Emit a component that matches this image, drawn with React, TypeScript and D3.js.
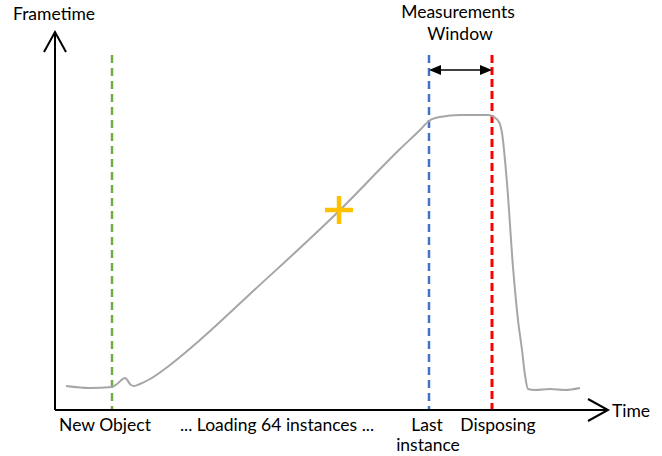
import React from "react";
import * as d3 from "d3";

// Schematic frametime curve (time units, frametime units)
const curveTime = [11, 35, 57, 62, 70, 76, 79, 85, 95, 115, 145, 195, 285, 345, 365, 374, 385, 405, 433, 439, 444, 447, 452, 458, 463, 467, 470, 473, 480, 495, 510, 525];
const curveFrame = [24, 22, 23, 26, 32, 25, 24, 26, 31, 45, 70, 116, 200, 261, 280, 289, 293, 295, 295, 293, 288, 277, 227, 143, 90, 60, 35, 21, 20, 21, 20, 22];

// Event markers
const markerNames = ["newObject", "lastInstance", "disposing"];
const markerTimes = [57, 374, 437];
const markerColors = ["#70AD47", "#4472C4", "#FF0000"];

const bottomLabels = ["New Object", "... Loading 64 instances ...", "Last", "instance", "Disposing"];
const bottomLabelTimes = [50, 222, 372, 373, 443];

const crossTime = 284;
const crossFrame = 200;

const W = 662;
const H = 456;

export default function App() {
  const x = d3.scaleLinear().domain([0, 553]).range([55, 608]);
  const y = d3.scaleLinear().domain([0, 378]).range([410, 32]);

  const line = d3
    .line<number>()
    .x((_, i) => x(curveTime[i]))
    .y((_, i) => y(curveFrame[i]))
    .curve(d3.curveMonotoneX);

  const font = "Lato, 'Open Sans', sans-serif";
  const fs = 17.5;
  const x0 = x(0);
  const y0 = y(0);
  const yTop = y(378);
  const xEnd = x(553);
  const dashTop = y(355);

  const bx = x(markerTimes[1]);
  const rx = x(markerTimes[2]);
  const ay = y(340);

  const cx = x(crossTime);
  const cy = y(crossFrame);

  return (
    <svg
      width={W}
      height={H}
      style={{ position: "absolute", left: 0, top: 0, background: "#fff" }}
      fontFamily={font}
    >
      {/* dashed markers */}
      {markerNames.map((n, i) => (
        <line
          key={n}
          x1={x(markerTimes[i])}
          x2={x(markerTimes[i])}
          y1={dashTop}
          y2={y0}
          stroke={markerColors[i]}
          strokeWidth={i === 2 ? 3 : 2.5}
          strokeDasharray={i === 2 ? "8,4" : "8,5"}
        />
      ))}

      {/* curve */}
      <path d={line(curveTime) || ""} fill="none" stroke="#A6A6A6" strokeWidth={2} />

      {/* axes */}
      <line x1={x0} x2={x0} y1={y0} y2={yTop} stroke="#000" strokeWidth={2} />
      <line x1={x0} x2={xEnd} y1={y0} y2={y0} stroke="#000" strokeWidth={2} />
      <polyline
        points={`${x0 - 11},${yTop + 20} ${x0},${yTop} ${x0 + 11},${yTop + 20}`}
        fill="none"
        stroke="#000"
        strokeWidth={2}
      />
      <polyline
        points={`${xEnd - 20},${y0 - 11} ${xEnd},${y0} ${xEnd - 20},${y0 + 11}`}
        fill="none"
        stroke="#000"
        strokeWidth={2}
      />

      {/* measurement window double arrow */}
      <line x1={bx + 10} x2={rx - 10} y1={ay} y2={ay} stroke="#000" strokeWidth={1.5} />
      <polygon points={`${bx},${ay} ${bx + 12},${ay - 5} ${bx + 12},${ay + 5}`} fill="#000" />
      <polygon points={`${rx},${ay} ${rx - 12},${ay - 5} ${rx - 12},${ay + 5}`} fill="#000" />

      {/* cross */}
      <line x1={cx - 14} x2={cx + 14} y1={cy} y2={cy} stroke="#FFC000" strokeWidth={4.5} />
      <line x1={cx} x2={cx} y1={cy - 14} y2={cy + 14} stroke="#FFC000" strokeWidth={4.5} />

      {/* texts */}
      <text x={13} y={20} fontSize={fs} fill="#000">Frametime</text>
      <text x={458} y={18} fontSize={fs} textAnchor="middle" fill="#000">Measurements</text>
      <text x={460} y={40} fontSize={fs} textAnchor="middle" fill="#000">Window</text>
      <text x={xEnd + 4} y={417} fontSize={fs} fill="#000">Time</text>
      {bottomLabels.map((l, i) => (
        <text
          key={l}
          x={x(bottomLabelTimes[i])}
          y={i === 3 ? 451 : 431}
          fontSize={fs}
          textAnchor="middle"
          fill="#000"
        >
          {l}
        </text>
      ))}
    </svg>
  );
}
